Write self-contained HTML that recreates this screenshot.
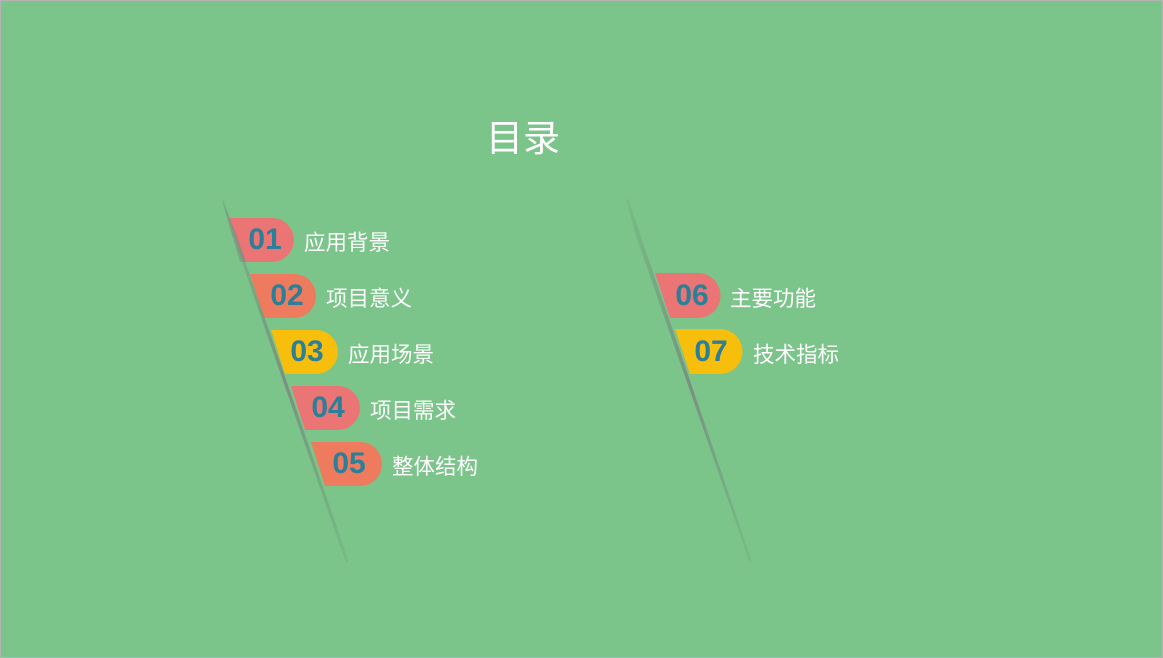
<!DOCTYPE html>
<html><head><meta charset="utf-8"><style>
html,body{margin:0;padding:0}
body{width:1163px;height:658px;overflow:hidden;background:#7bc48a}
svg{display:block}
</style></head><body>
<svg width="1163" height="658" xmlns="http://www.w3.org/2000/svg">
<defs>
<linearGradient id="lg" x1="0" y1="0" x2="1" y2="0">
<stop offset="0" stop-color="#6a9a78" stop-opacity="0.2"/>
<stop offset="0.5" stop-color="#7a8a80" stop-opacity="0.9"/>
<stop offset="1" stop-color="#6a9a78" stop-opacity="0.2"/>
</linearGradient>
</defs>
<rect x="0.5" y="0.5" width="1162" height="657" fill="#7bc48a" stroke="#b4b4b4"/>
<text x="523" y="151" text-anchor="middle" font-family="Liberation Sans, Noto Sans CJK SC, sans-serif" font-size="37" fill="#fff">目录</text>
<g font-family="Liberation Sans, Noto Sans CJK SC, sans-serif">
<path d="M229,218 L272,218 A22,22 0 0 1 272,262 L244,262 Z" fill="#eb7575"/>
<path d="M250,274 L294,274 A22,22 0 0 1 294,318 L264,318 Z" fill="#ee7b5e"/>
<path d="M271,330 L316,330 A22,22 0 0 1 316,374 L285,374 Z" fill="#f7bf0c"/>
<path d="M291,386 L338,386 A22,22 0 0 1 338,430 L305,430 Z" fill="#eb7575"/>
<path d="M311,442 L360,442 A22,22 0 0 1 360,486 L325,486 Z" fill="#ee7b5e"/>
<path d="M655,273 L698,273 A22.5,22.5 0 0 1 698,318 L670,318 Z" fill="#eb7575"/>
<path d="M675,329 L720,329 A22.5,22.5 0 0 1 720,374 L690,374 Z" fill="#f7bf0c"/>
<polygon points="222,200 224,200 349,562 346,562 338,540 233,236" fill="url(#lg)"/>
<polygon points="222,200 230,228 240,262 246,262 237,236" fill="#7a8a80" opacity="0.5"/>
<polygon points="626,199 628,199 752,562 749,562 742,540 636,236" fill="url(#lg)"/>
<g font-weight="bold" font-size="30" fill="#2b7f98" text-anchor="middle">
<text x="265" y="249">01</text>
<text x="287" y="305">02</text>
<text x="307" y="361">03</text>
<text x="328" y="417">04</text>
<text x="349" y="473">05</text>
<text x="692" y="305">06</text>
<text x="711" y="361">07</text>
</g>
<g font-size="21.5" fill="#fff">
<text x="304" y="250">应用背景</text>
<text x="326" y="306">项目意义</text>
<text x="348" y="362">应用场景</text>
<text x="370" y="418">项目需求</text>
<text x="392" y="474">整体结构</text>
<text x="730" y="306">主要功能</text>
<text x="753" y="362">技术指标</text>
</g>
</g>
</svg>
</body></html>
